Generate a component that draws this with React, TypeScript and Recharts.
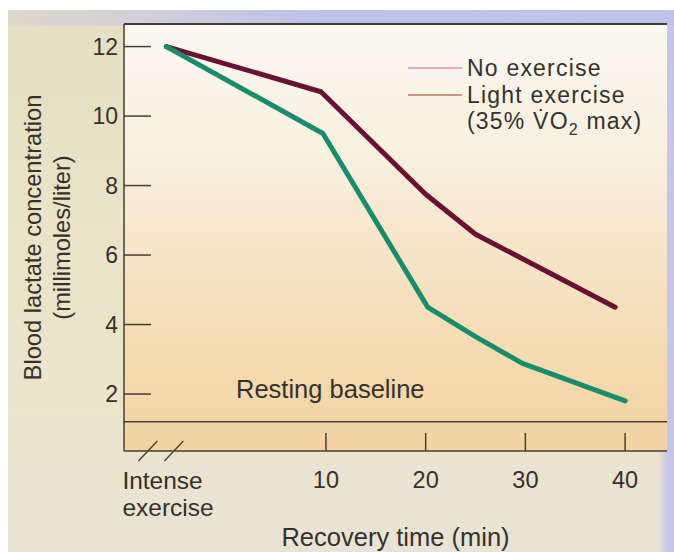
import { LineChart, Line, XAxis, YAxis, ReferenceLine, Legend, CartesianGrid } from 'recharts';

// recovery time (min) and blood lactate (mmol/L); -6 stands for the "Intense exercise" point
const noExerciseTime = [-6, 9.5, 20, 25, 30, 39];
const noExerciseLactate = [12, 10.7, 7.75, 6.6, 5.85, 4.5];
const lightExerciseTime = [-6, 9.7, 20.2, 25, 29.7, 40];
const lightExerciseLactate = [12, 9.5, 4.5, 3.65, 2.88, 1.8];

const xTicks = [-6, 10, 20, 30, 40];
const yTicks = [2, 4, 6, 8, 10, 12];
const restingBaseline = 1.2;

const seriesNames = ['No exercise', 'Light exercise'];
const seriesColors = ['#6a1032', '#1a8c6c'];
const legendSwatches = ['#f2a4c8', '#c8977c'];

const noExercise = noExerciseTime.map((t, i) => ({ time: t, lactate: noExerciseLactate[i] }));
const lightExercise = lightExerciseTime.map((t, i) => ({ time: t, lactate: lightExerciseLactate[i] }));

const FONT = '"Liberation Sans", Arial, Helvetica, sans-serif';
const TEXT = '#35312c';
const AXIS = '#463e33';

const XTick = (props: any) => {
  const { x, y, payload } = props;
  if (payload.value === -6) {
    return (
      <g>
        <line x1={x - 28} y1={y + 10} x2={x - 9} y2={y - 10} stroke={AXIS} strokeWidth={1.3} />
        <line x1={x - 2} y1={y + 10} x2={x + 17} y2={y - 10} stroke={AXIS} strokeWidth={1.3} />
        <text x={x - 44} y={y + 29} dy="0.35em" fontSize={24.5} fontFamily={FONT} fill={TEXT}>
          Intense
        </text>
        <text x={x - 44} y={y + 56} dy="0.35em" fontSize={24.5} fontFamily={FONT} fill={TEXT}>
          exercise
        </text>
      </g>
    );
  }
  return (
    <g>
      <line x1={x} y1={y} x2={x} y2={y - 18} stroke={AXIS} strokeWidth={1.5} />
      <text x={x} y={y + 29} dy="0.35em" textAnchor="middle" fontSize={23.5} fontFamily={FONT} fill={TEXT}>
        {payload.value}
      </text>
    </g>
  );
};

const YTick = (props: any) => {
  const { x, y, payload } = props;
  return (
    <g>
      <line x1={x} y1={y} x2={x + 27} y2={y} stroke={AXIS} strokeWidth={1.5} />
      <text x={x - 6} y={y} dy="0.35em" textAnchor="end" fontSize={23} fontFamily={FONT} fill={TEXT}>
        {payload.value}
      </text>
    </g>
  );
};

const YLabel = (props: any) => {
  const { viewBox } = props;
  const cy = viewBox.y + viewBox.height / 2;
  const ax = viewBox.x + viewBox.width;
  const x1 = ax - 91;
  const x2 = ax - 62;
  return (
    <g fontSize={23.7} fontFamily={FONT} fill={TEXT} textAnchor="middle">
      <text x={x1} y={cy} dy="0.35em" transform={`rotate(-90 ${x1} ${cy})`}>
        Blood lactate concentration
      </text>
      <text x={x2} y={cy} dy="0.35em" transform={`rotate(-90 ${x2} ${cy})`}>
        (millimoles/liter)
      </text>
    </g>
  );
};

const XLabel = (props: any) => {
  const { viewBox } = props;
  return (
    <text
      x={viewBox.x + viewBox.width / 2}
      y={viewBox.y + 86}
      dy="0.35em"
      textAnchor="middle"
      fontSize={25.5}
      fontFamily={FONT}
      fill={TEXT}
    >
      Recovery time (min)
    </text>
  );
};

const BaselineLabel = (props: any) => {
  const { viewBox } = props;
  return (
    <text x={viewBox.x + 112} y={viewBox.y - 33} dy="0.35em" fontSize={25.5} fontFamily={FONT} fill={TEXT}>
      Resting baseline
    </text>
  );
};

const renderLegend = () => (
  <div style={{ fontFamily: FONT, fontSize: 23, letterSpacing: 1.2, color: TEXT, lineHeight: '26.5px' }}>
    {seriesNames.map((name, i) => (
      <div key={name} style={{ display: 'flex', alignItems: 'center' }}>
        <span style={{ display: 'inline-block', width: 54, height: 2, background: legendSwatches[i], marginRight: 5 }} />
        <span>{name}</span>
      </div>
    ))}
    <div style={{ paddingLeft: 59 }}>
      (35% V{'\u0307'}O<sub style={{ fontSize: 16, lineHeight: 0 }}>2</sub> max)
    </div>
  </div>
);

export default function App() {
  return (
    <div style={{ position: 'absolute', left: 0, top: 0, width: 674, height: 552, background: '#ffffff' }}>
      <div
        style={{
          position: 'absolute',
          left: 8,
          top: 10,
          width: 666,
          height: 542,
          background:
            'linear-gradient(to right, rgba(196,196,236,0) 650px, rgba(196,196,236,0.95) 660px), linear-gradient(to bottom, #e4dec2 0%, #ebe4c8 45%, #ece4cc 75%, #e8e3d6 100%)',
        }}
      />
      <div
        style={{
          position: 'absolute',
          left: 8,
          top: 10,
          width: 666,
          height: 16,
          background: 'linear-gradient(to right, rgba(200,200,232,0.2) 0%, rgba(190,192,236,0.95) 45%, rgba(192,194,236,0.95) 100%)',
        }}
      />
      <div style={{ position: 'absolute', left: 0, top: 0 }}>
        <LineChart width={674} height={552} margin={{ top: 23, right: 7, bottom: 100, left: 123 }}>
          <defs>
            <linearGradient id="plotBg" x1="0" y1="0" x2="0" y2="1">
              <stop offset="0%" stopColor="#fbf9f2" />
              <stop offset="30%" stopColor="#f8f0e0" />
              <stop offset="62%" stopColor="#f6e1bf" />
              <stop offset="100%" stopColor="#f3d3a1" />
            </linearGradient>
          </defs>
          <CartesianGrid fill="url(#plotBg)" horizontal={false} vertical={false} />
          <XAxis
            xAxisId="top"
            orientation="top"
            type="number"
            dataKey="time"
            domain={[-10.25, 44.2]}
            height={1}
            tick={false}
            tickLine={false}
            axisLine={{ stroke: AXIS, strokeWidth: 2 }}
          />
          <XAxis
            type="number"
            dataKey="time"
            domain={[-10.25, 44.2]}
            ticks={xTicks}
            interval={0}
            height={1}
            tickSize={0}
            tickMargin={0}
            tickLine={false}
            tick={<XTick />}
            axisLine={{ stroke: AXIS, strokeWidth: 1.5 }}
            label={<XLabel />}
            allowDataOverflow
          />
          <YAxis
            type="number"
            domain={[0.36, 12.65]}
            ticks={yTicks}
            interval={0}
            width={1}
            tickSize={0}
            tickMargin={0}
            tickLine={false}
            tick={<YTick />}
            axisLine={{ stroke: AXIS, strokeWidth: 1.5 }}
            label={<YLabel />}
            allowDataOverflow
          />
          <ReferenceLine y={restingBaseline} stroke={AXIS} strokeWidth={1.5} label={<BaselineLabel />} />
          <Line
            data={noExercise}
            dataKey="lactate"
            name={seriesNames[0]}
            stroke={seriesColors[0]}
            strokeWidth={5}
            strokeLinecap="round"
            strokeLinejoin="round"
            dot={false}
            isAnimationActive={false}
          />
          <Line
            data={lightExercise}
            dataKey="lactate"
            name={seriesNames[1]}
            stroke={seriesColors[1]}
            strokeWidth={5}
            strokeLinecap="round"
            strokeLinejoin="round"
            dot={false}
            isAnimationActive={false}
          />
          <Legend
            layout="vertical"
            align="center"
            verticalAlign="middle"
            content={renderLegend}
            wrapperStyle={{ left: 408, top: 55, width: 260 }}
          />
        </LineChart>
      </div>
    </div>
  );
}
